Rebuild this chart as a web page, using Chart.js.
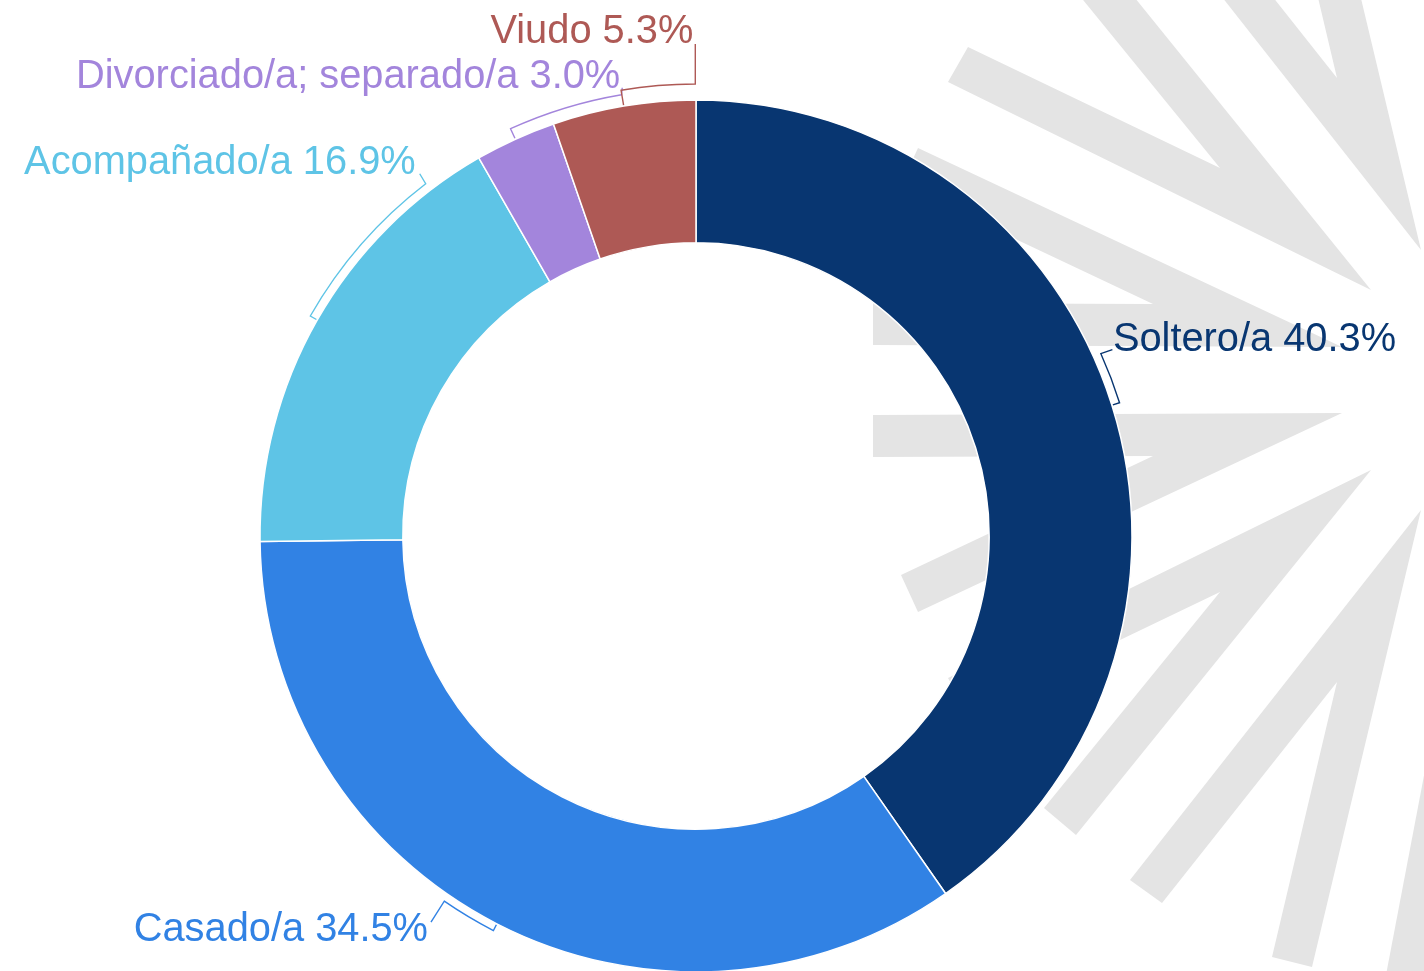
<!DOCTYPE html>
<html>
<head>
<meta charset="utf-8">
<script src="https://cdn.jsdelivr.net/npm/chart.js@4.4.1/dist/chart.umd.min.js"></script>
<style>
  html, body { margin: 0; padding: 0; background: #ffffff; }
  canvas { display: block; }
</style>
</head>
<body>
<canvas id="c" width="1424" height="971"></canvas>
<script>
// ---- data ----
const categories = ['Soltero/a', 'Casado/a', 'Acompañado/a', 'Divorciado/a; separado/a', 'Viudo'];
const values = [40.3, 34.5, 16.9, 3.0, 5.3];
const colors = ['#083671', '#3182e4', '#5ec4e6', '#a385dc', '#ae5955'];

// ---- label layout (bracket offset, sweep in degrees, connector, text offset) ----
const labelLayout = [
  { dr: 8,    sweep: -6.8,  cx: 11.6,  cy: -4,  tx: 0.5, ty: 1,   align: 'left'  },
  { dr: 7.5,  sweep: 7.4,   cx: -13.3, cy: 21,  tx: -3,  ty: 19,  align: 'right' },
  { dr: 8,    sweep: 22.8,  cx: -6,    cy: -10, tx: -4,  ty: 0,   align: 'right' },
  { dr: 11.5, sweep: 14.9,  cx: 0.7,   cy: -7,  tx: -2,  ty: 0,   align: 'right' },
  { dr: 16,   sweep: 9.45,  cx: 0,     cy: -40, tx: -2,  ty: -1,  align: 'right' }
];

// ---- background watermark (decorative) ----
const wmMirrorY = 760;
const wmShapes = [
  [[1044,-48],[1076,-75],[1371,290],[948,82],[968,47],[1220,168]],
  [[1421,250],[1312,-207],[1272,-197],[1337,78],[1162,-143],[1130,-120]],
  [[873,303],[1153,304],[901,185],[918,148],[1342,347],[873,345]]
];
const wmExtra = [
  [[1386,975],[1426,765],[1470,765],[1440,975]]
];

const watermarkPlugin = {
  id: 'watermark',
  beforeDraw(chart) {
    const ctx = chart.ctx;
    ctx.save();
    ctx.fillStyle = '#ffffff';
    ctx.fillRect(0, 0, chart.width, chart.height);
    ctx.fillStyle = '#e4e4e4';
    const drawPoly = (pts, mirror) => {
      ctx.beginPath();
      pts.forEach((p, k) => {
        const y = mirror ? wmMirrorY - p[1] : p[1];
        if (k === 0) ctx.moveTo(p[0], y); else ctx.lineTo(p[0], y);
      });
      ctx.closePath();
      ctx.fill();
    };
    wmShapes.forEach(s => { drawPoly(s, false); drawPoly(s, true); });
    wmExtra.forEach(s => drawPoly(s, false));
    ctx.restore();
  }
};

const labelPlugin = {
  id: 'bracketLabels',
  afterDatasetsDraw(chart) {
    const ctx = chart.ctx;
    const meta = chart.getDatasetMeta(0);
    meta.data.forEach((arc, i) => {
      const p = arc.getProps(['x', 'y', 'startAngle', 'endAngle', 'outerRadius'], true);
      const L = labelLayout[i];
      const mid = (p.startAngle + p.endAngle) / 2;
      const R = p.outerRadius;
      const rb = R + L.dr;
      const end = mid + L.sweep * Math.PI / 180;
      ctx.save();
      ctx.strokeStyle = colors[i];
      ctx.lineWidth = 1.4;
      ctx.lineJoin = 'miter';
      ctx.beginPath();
      ctx.moveTo(p.x + (R + 1) * Math.cos(mid), p.y + (R + 1) * Math.sin(mid));
      ctx.lineTo(p.x + rb * Math.cos(mid), p.y + rb * Math.sin(mid));
      ctx.arc(p.x, p.y, rb, mid, end, L.sweep < 0);
      const ex = p.x + rb * Math.cos(end);
      const ey = p.y + rb * Math.sin(end);
      const cx = ex + L.cx, cy = ey + L.cy;
      ctx.lineTo(cx, cy);
      ctx.stroke();
      ctx.fillStyle = colors[i];
      ctx.font = '39.8px "Liberation Sans", Arial, sans-serif';
      ctx.textAlign = L.align;
      ctx.textBaseline = 'alphabetic';
      const text = categories[i] + ' ' + values[i].toFixed(1) + '%';
      ctx.fillText(text, cx + L.tx, cy + L.ty);
      ctx.restore();
    });
  }
};

new Chart(document.getElementById('c'), {
  type: 'doughnut',
  data: {
    labels: categories,
    datasets: [{
      data: values,
      backgroundColor: colors,
      borderColor: '#ffffff',
      borderWidth: 1.5,
      hoverOffset: 0
    }]
  },
  options: {
    responsive: false,
    animation: false,
    radius: 436,
    cutout: 292,
    layout: { padding: { left: 0, right: 32, top: 101, bottom: 0 } },
    plugins: {
      legend: { display: false },
      tooltip: { enabled: false }
    },
    events: []
  },
  plugins: [watermarkPlugin, labelPlugin]
});
</script>
</body>
</html>
